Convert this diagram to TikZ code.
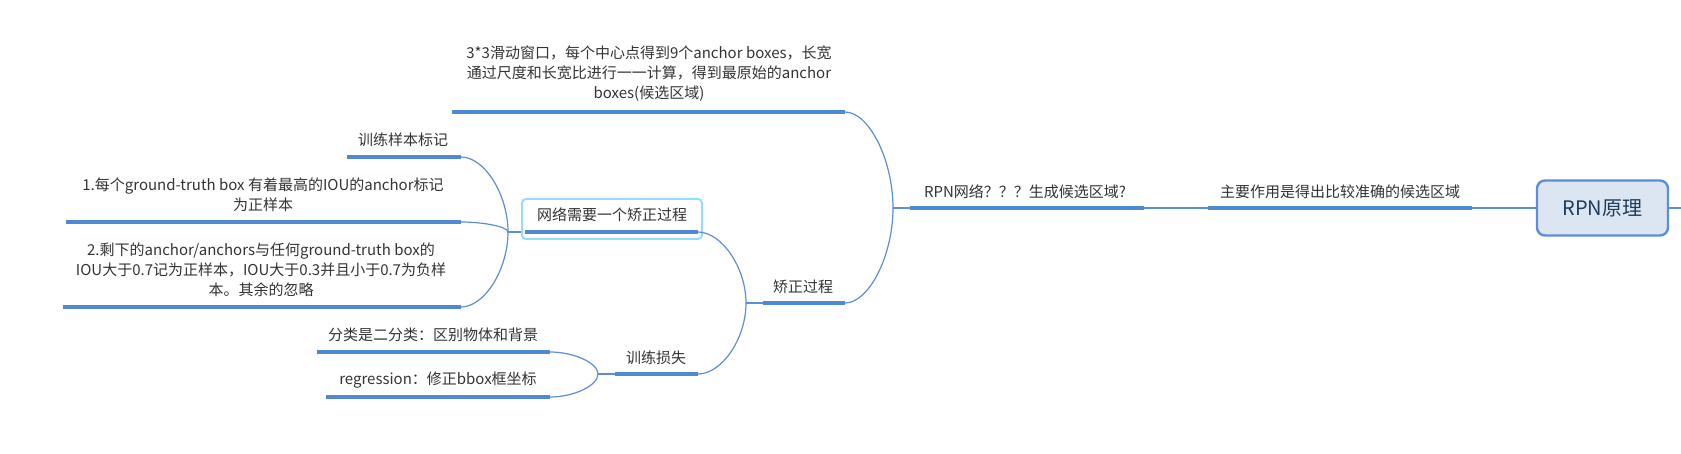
\documentclass[tikz,border=0pt]{standalone}
\usepackage{fontspec}
\setmainfont{Noto Sans CJK SC}
\definecolor{lineblue}{HTML}{5B8ED6}
\definecolor{ulblue}{HTML}{4F89D4}
\definecolor{textgray}{HTML}{333333}
\definecolor{rootfill}{HTML}{DCE6F2}
\definecolor{roottext}{HTML}{1F3B5C}
\definecolor{cyanborder}{HTML}{93DBFF}
\begin{document}
\begin{tikzpicture}[x=1pt,y=-1pt,
  txt/.style={font=\fontsize{15}{20}\selectfont, text=textgray, align=center, inner sep=0pt},
  uline/.style={line width=3.5pt, draw=ulblue},
  conn/.style={line width=1.2pt, draw=lineblue},
  rootbox/.style={rounded corners=8pt, draw=lineblue, line width=2.4pt, fill=rootfill,
    minimum width=131pt, minimum height=55pt, inner sep=0pt,
    font=\fontsize{20}{24}\selectfont, text=roottext},
  cyanbox/.style={rounded corners=4pt, draw=cyanborder, line width=2pt, fill=white,
    minimum width=180pt, minimum height=40pt, inner sep=0pt}
]
\useasboundingbox (0,0) rectangle (1681,454);

% root
\node[rootbox] (root) at (1602.5,208) {RPN原理};
\coordinate (rootR) at (1681,208);
\draw[conn] (root.east) -- (rootR);

% main topic
\coordinate (mainL) at (1208,208);
\coordinate (mainR) at (1472,208);
\draw[uline] (mainL) -- (mainR);
\node[txt] (main) at (1340,192) {主要作用是得出比较准确的候选区域};
\draw[conn] (root.west) -- (mainR);

% RPN network
\coordinate (rpnL) at (910,208);
\coordinate (rpnR) at (1144,208);
\coordinate (rpnJ) at (893,208);
\draw[uline] (rpnL) -- (rpnR);
\node[txt] (rpn) at (1025,192) {RPN网络？？？生成候选区域?};
\draw[conn] (mainL) -- (rpnR);
\draw[conn] (rpnL) -- (rpnJ);

% top sliding window
\coordinate (topL) at (452,112);
\coordinate (topR) at (845,112);
\draw[uline] (topL) -- (topR);
\node[txt] (top) at (649,74) {3*3滑动窗口，每个中心点得到9个anchor boxes，长宽\\通过尺度和长宽比进行一一计算，得到最原始的anchor\\boxes(候选区域)};
\draw[conn] (rpnJ) .. controls (893,160) and (869,112) .. (topR);

% correction process
\coordinate (jzL) at (763,303);
\coordinate (jzR) at (845,303);
\coordinate (jzJ) at (746,303);
\draw[uline] (jzL) -- (jzR);
\node[txt] (jz) at (803,287) {矫正过程};
\draw[conn] (rpnJ) .. controls (893,255.5) and (869,303) .. (jzR);
\draw[conn] (jzL) -- (jzJ);

% network needs a correction
\node[cyanbox] (wlbox) at (612,219) {};
\coordinate (wlL) at (525,232);
\coordinate (wlR) at (698,232);
\coordinate (wlJ) at (508,232);
\draw[uline] (wlL) -- (wlR);
\node[txt] (wl) at (612,215) {网络需要一个矫正过程};
\draw[conn] (jzJ) .. controls (746,267.5) and (721.5,232) .. (wlR);
\draw[conn] (wlbox.west |- wlL) -- (wlJ);

% training sample labelling
\coordinate (c1L) at (347,157);
\coordinate (c1R) at (461,157);
\draw[uline] (c1L) -- (c1R);
\node[txt] (c1) at (403,140) {训练样本标记};
\draw[conn] (wlJ) .. controls (508,194.5) and (484.5,157) .. (c1R);

\coordinate (c2L) at (66,222);
\coordinate (c2R) at (461,222);
\draw[uline] (c2L) -- (c2R);
\node[txt] (c2) at (263,195) {1.每个ground-truth box 有着最高的IOU的anchor标记\\为正样本};
\draw[conn] (wlJ) .. controls (508,227) and (484.5,222) .. (c2R);

\coordinate (c3L) at (63,307);
\coordinate (c3R) at (461,307);
\draw[uline] (c3L) -- (c3R);
\node[txt] (c3) at (261,270) {2.剩下的anchor/anchors与任何ground-truth box的\\IOU大于0.7记为正样本，IOU大于0.3并且小于0.7为负样\\本。其余的忽略};
\draw[conn] (wlJ) .. controls (508,269.5) and (484.5,307) .. (c3R);

% training loss
\coordinate (lossL) at (615,374);
\coordinate (lossR) at (698,374);
\coordinate (lossJ) at (598,374);
\draw[uline] (lossL) -- (lossR);
\node[txt] (loss) at (656,358) {训练损失};
\draw[conn] (jzJ) .. controls (746,338.5) and (722,374) .. (lossR);
\draw[conn] (lossL) -- (lossJ);

\coordinate (clsL) at (317,352);
\coordinate (clsR) at (550,352);
\draw[uline] (clsL) -- (clsR);
\node[txt] (cls) at (433,335) {分类是二分类：区别物体和背景};
\draw[conn] (lossJ) .. controls (598,363) and (574,352) .. (clsR);

\coordinate (regL) at (326,397);
\coordinate (regR) at (550,397);
\draw[uline] (regL) -- (regR);
\node[txt] (reg) at (438,380) {regression：修正bbox框坐标};
\draw[conn] (lossJ) .. controls (598,385.5) and (574,397) .. (regR);
\end{tikzpicture}
\end{document}
